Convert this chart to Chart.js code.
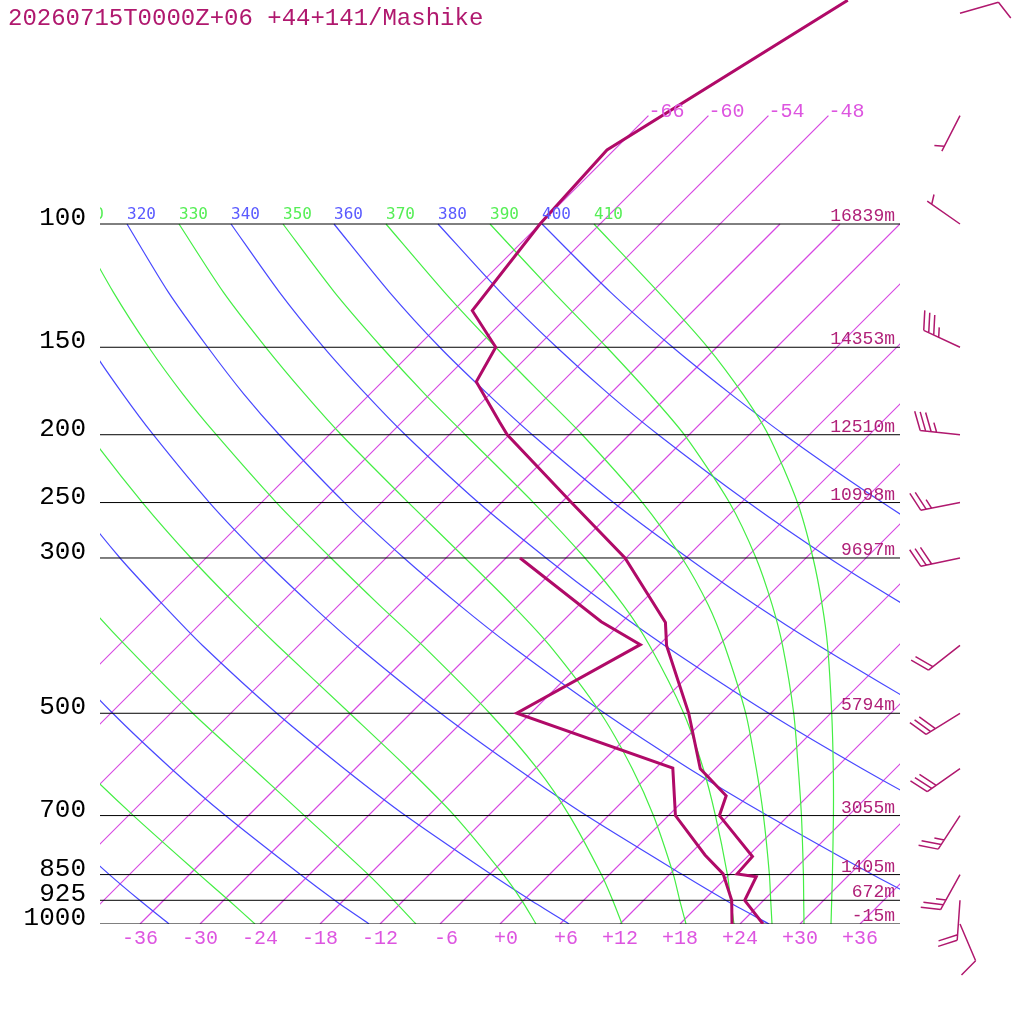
<!DOCTYPE html>
<html lang="ja">
<head>
  <meta charset="UTF-8" />
  <title>20260715T0000Z+06 +44+141/Mashike</title>
  <script src="https://cdn.jsdelivr.net/npm/chart.js"></script>
  <style>
    * { margin: 0; padding: 0; box-sizing: border-box; }
    body { background: #fff; width: 1024px; height: 1024px; overflow: hidden; }
    canvas { display: block; }
  </style>
</head>
<body>
  <canvas id="emagram" width="1024" height="1024"></canvas>

  <script>
    const title = '20260715T0000Z+06 +44+141/Mashike';

    // sounding (hPa, °C)
    const tempP = [1000, 925, 856, 848, 801, 700, 656, 600, 500, 400, 371, 300, 250, 200, 192, 168, 150, 133, 100, 78.4, 47.9];
    const tempT = [26.3, 22.1, 20.9, 18.7, 18.5, 11.1, 9.8, 4.5, -2.2, -11.2, -13.6, -24.1, -35.0, -48.2, -50.2, -56.6, -58.1, -64.1, -66.0, -66.7, -57.6];
    const dewP = [1000, 925, 848, 797, 700, 599, 500, 399, 370, 300];
    const dewT = [23.2, 20.8, 17.3, 13.6, 6.7, 1.7, -19.4, -13.9, -20.1, -34.6];

    // standard levels and their heights
    const isobars = [100, 150, 200, 250, 300, 500, 700, 850, 925, 1000];
    const heights = ['16839m', '14353m', '12510m', '10998m', '9697m', '5794m', '3055m', '1405m', '672m', '-15m'];

    // winds: pressure, direction (deg), speed (kt)
    const windP = [50, 70, 100, 150, 200, 250, 300, 400, 500, 600, 700, 850, 925, 1000];
    const windDir = [74, 207, 305, 295, 276, 259, 258, 232, 238, 235, 213, 209, 184, 157];
    const windKt = [10, 5, 5, 35, 35, 25, 30, 20, 30, 30, 25, 25, 20, 10];

    // isotherms (°C) and the ones that run up to 70 hPa with a label
    const isotherms = [-66, -60, -54, -48, -42, -36, -30, -24, -18, -12, -6, 0, 6, 12, 18, 24, 30, 36];
    const upperIsotherms = [-66, -60, -54, -48];
    const xTicks = [-36, -30, -24, -18, -12, -6, 0, 6, 12, 18, 24, 30, 36];

    // adiabats: temperature (°C) at these levels
    const adiabatP = [100, 125, 150, 175, 200, 250, 300, 350, 400, 500, 600, 700, 850, 925, 1000];
    const dryTheta = [240, 260, 280, 300, 320, 340, 360, 380, 400];
    const dryT = [
      [-148.8, -140.6, -133.5, -127.2, -121.5, -111.6, -102.9, -95.3, -88.4, -76.2, -65.7, -56.4, -44.0, -38.4, -33.1],
      [-138.4, -129.5, -121.9, -115.1, -108.9, -98.1, -88.8, -80.5, -73.0, -59.8, -48.4, -38.3, -24.9, -18.9, -13.1],
      [-128.0, -118.5, -110.2, -102.9, -96.3, -84.6, -74.6, -65.6, -57.6, -43.4, -31.1, -20.3, -5.8, 0.7, 6.9],
      [-117.7, -107.4, -98.6, -90.7, -83.6, -71.2, -60.4, -50.8, -42.2, -27.0, -13.8, -2.2, 13.3, 20.2, 26.9],
      [-107.3, -96.4, -86.9, -78.6, -71.0, -57.7, -46.2, -36.0, -26.8, -10.6, 3.4, 15.9, 32.3, 39.8, 46.9],
      [-96.9, -85.3, -75.3, -66.4, -58.4, -44.3, -32.0, -21.2, -11.4, 5.8, 20.7, 33.9, 51.4, 59.4, 66.9],
      [-86.6, -74.3, -63.7, -54.2, -45.7, -30.8, -17.8, -6.4, 4.0, 22.2, 38.0, 52.0, 70.5, 78.9, 86.9],
      [-76.2, -63.2, -52.0, -42.1, -33.1, -17.3, -3.7, 8.5, 19.4, 38.6, 55.3, 70.1, 89.6, 98.5, 106.9],
      [-65.8, -52.2, -40.4, -29.9, -20.5, -3.9, 10.5, 23.3, 34.8, 55.1, 72.6, 88.1, 108.7, 118.0, 126.9]
    ];
    const moistTheta = [250, 270, 290, 310, 330, 350, 370, 390, 410];
    const moistT = [
      [-143.6, -135.1, -127.7, -121.1, -115.2, -104.8, -95.9, -87.9, -80.7, -68.0, -57.1, -47.5, -35.0, -29.5, -24.5],
      [-133.2, -124.0, -116.0, -109.0, -102.6, -91.4, -81.7, -73.1, -65.3, -51.8, -40.2, -30.4, -18.1, -13.0, -8.4],
      [-122.8, -113.0, -104.4, -96.8, -90.0, -77.9, -67.5, -58.3, -50.1, -36.1, -24.7, -15.4, -4.6, -0.2, 3.6],
      [-112.5, -101.9, -92.8, -84.7, -77.3, -64.5, -53.5, -44.0, -35.6, -22.1, -11.8, -3.9, 5.2, 8.9, 12.2],
      [-102.1, -90.9, -81.1, -72.5, -64.8, -51.3, -40.1, -30.7, -22.9, -11.0, -2.3, 4.5, 12.4, 15.6, 18.6],
      [-91.7, -79.8, -69.5, -60.5, -52.4, -38.8, -28.1, -19.6, -12.9, -2.7, 4.8, 10.7, 17.8, 20.7, 23.4],
      [-81.4, -68.8, -58.1, -48.8, -40.7, -27.9, -18.4, -11.1, -5.4, 3.5, 10.1, 15.5, 22.0, 24.7, 27.2],
      [-71.0, -57.9, -47.0, -38.0, -30.5, -19.2, -11.0, -4.7, 0.4, 8.3, 14.3, 19.3, 25.4, 28.0, 30.4],
      [-60.6, -47.4, -36.9, -28.7, -22.1, -12.4, -5.3, 0.3, 4.9, 12.1, 17.8, 22.5, 28.3, 30.8, 33.1]
    ];

    const C_LINE = '#b00a68';
    const C_TEXT = '#b0186e';
    const C_HGT = '#b02078';
    const C_ISO = 'rgb(214, 72, 226)';
    const C_ISO_TXT = '#dd55e0';
    const C_DRY = 'rgb(72, 72, 255)';
    const C_MOIST = 'rgb(68, 238, 68)';

    // skew-T: the x axis is temperature shifted 1 px across for every px up
    // 700 px per decade of pressure and 10 px per °C  ->  70 °C per ln(10)
    const SKEW = 70 / Math.LN10;
    const P_TOP = 1000 / Math.exp(924 / (700 / Math.LN10));
    function skewX(t, p) { return t + SKEW * Math.log(1000 / p); }
    function pts(ps, ts) { return ps.map((p, i) => ({ x: skewX(ts[i], p), y: p })); }
    function lineSet(data, color, width, tension) {
      return {
        data, showLine: true, pointRadius: 0, fill: false, tension: tension || 0,
        borderColor: color, backgroundColor: color, borderWidth: width
      };
    }

    // first dataset ends up on top
    const datasets = [];
    datasets.push(lineSet(pts(tempP, tempT), C_LINE, 3));
    datasets.push(lineSet(pts(dewP, dewT), C_LINE, 3));
    isobars.forEach(p => {
      datasets.push(lineSet([{ x: -40, y: p }, { x: 40, y: p }], '#000', 1));
    });
    moistT.forEach(ts => datasets.push(lineSet(pts(adiabatP, ts), C_MOIST, 1.2, 0.25)));
    dryT.forEach(ts => datasets.push(lineSet(pts(adiabatP, ts), C_DRY, 1.2, 0.25)));
    isotherms.forEach(t => {
      const top = upperIsotherms.includes(t) ? 70 : 100;
      datasets.push(lineSet([{ x: t, y: 1000 }, { x: skewX(t, top), y: top }], C_ISO, 1.2));
    });

    const decor = {
      id: 'decor',
      afterDatasetsDraw(chart) {
        const { ctx, chartArea: a, scales: { x, y } } = chart;
        ctx.save();

        // adiabat labels along the 100 hPa line, cut at the plot edges
        ctx.save();
        ctx.beginPath();
        ctx.rect(a.left, a.top, a.right - a.left, a.bottom - a.top);
        ctx.clip();
        ctx.font = '16px "DejaVu Sans Mono", monospace';
        ctx.textAlign = 'left';
        ctx.textBaseline = 'alphabetic';
        const y100 = y.getPixelForValue(100);
        dryTheta.forEach((th, i) => {
          ctx.fillStyle = '#5a5aff';
          ctx.fillText(String(th), x.getPixelForValue(skewX(dryT[i][0], 100)), y100 - 5);
        });
        moistTheta.forEach((th, i) => {
          ctx.fillStyle = '#55ee55';
          ctx.fillText(String(th), x.getPixelForValue(skewX(moistT[i][0], 100)), y100 - 5);
        });
        ctx.restore();

        // isotherm labels at the top ends
        ctx.font = '20px "Liberation Mono", monospace';
        ctx.fillStyle = C_ISO_TXT;
        ctx.textAlign = 'left';
        upperIsotherms.forEach(t => {
          ctx.fillText(String(t), x.getPixelForValue(skewX(t, 70)), y.getPixelForValue(70) + 1);
        });

        // temperature ticks under the plot
        ctx.textAlign = 'center';
        xTicks.forEach(v => {
          const s = (v < 0 ? '-' : '+') + Math.abs(v);
          ctx.fillText(s.padStart(3, ' '), x.getPixelForValue(v), a.bottom + 20);
        });

        // pressure labels and heights
        isobars.forEach((p, i) => {
          const py = y.getPixelForValue(p);
          ctx.font = '26px "Liberation Mono", monospace';
          ctx.fillStyle = '#000';
          ctx.textAlign = 'right';
          ctx.fillText(String(p), a.left - 14, py + 1);
          ctx.font = '18px "Liberation Mono", monospace';
          ctx.fillStyle = C_HGT;
          ctx.fillText(heights[i], a.right - 5, py - 3);
        });

        // title
        ctx.font = '24px "Liberation Mono", monospace';
        ctx.fillStyle = C_TEXT;
        ctx.textAlign = 'left';
        ctx.fillText(title, 8, 25);

        // wind barbs, staff towards where the wind comes from
        const bx = a.right + 60;
        const rot = 68 * Math.PI / 180, c = Math.cos(rot), s = Math.sin(rot);
        ctx.strokeStyle = C_TEXT;
        ctx.lineWidth = 1.5;
        windP.forEach((p, i) => {
          const py = y.getPixelForValue(p);
          const th = windDir[i] * Math.PI / 180;
          const ux = Math.sin(th), uy = -Math.cos(th);
          const vx = ux * c - uy * s, vy = ux * s + uy * c;
          const tx = bx + ux * 40, ty = py + uy * 40;
          const full = Math.floor(windKt[i] / 10), half = windKt[i] % 10 >= 5;
          ctx.beginPath();
          ctx.moveTo(bx, py);
          ctx.lineTo(tx, ty);
          for (let k = 0; k < full; k++) {
            const sx = tx - ux * 5.5 * k, sy = ty - uy * 5.5 * k;
            ctx.moveTo(sx, sy);
            ctx.lineTo(sx + vx * 20, sy + vy * 20);
          }
          if (half) {
            const k = full === 0 ? 1 : full;
            const sx = tx - ux * 5.5 * k, sy = ty - uy * 5.5 * k;
            ctx.moveTo(sx, sy);
            ctx.lineTo(sx + vx * 10, sy + vy * 10);
          }
          ctx.stroke();
        });

        ctx.restore();
      }
    };

    new Chart(document.getElementById('emagram'), {
      type: 'scatter',
      data: { datasets },
      options: {
        responsive: false,
        devicePixelRatio: 1,
        animation: false,
        events: [],
        layout: { padding: { left: 100, right: 124, top: 0, bottom: 100 } },
        elements: { line: { capBezierPoints: false } },
        scales: {
          x: { type: 'linear', min: -40, max: 40, display: false },
          y: { type: 'logarithmic', min: P_TOP, max: 1000, reverse: true, display: false }
        },
        plugins: { legend: { display: false }, tooltip: { enabled: false }, colors: { enabled: false } }
      },
      plugins: [decor]
    });
  </script>
</body>
</html>
